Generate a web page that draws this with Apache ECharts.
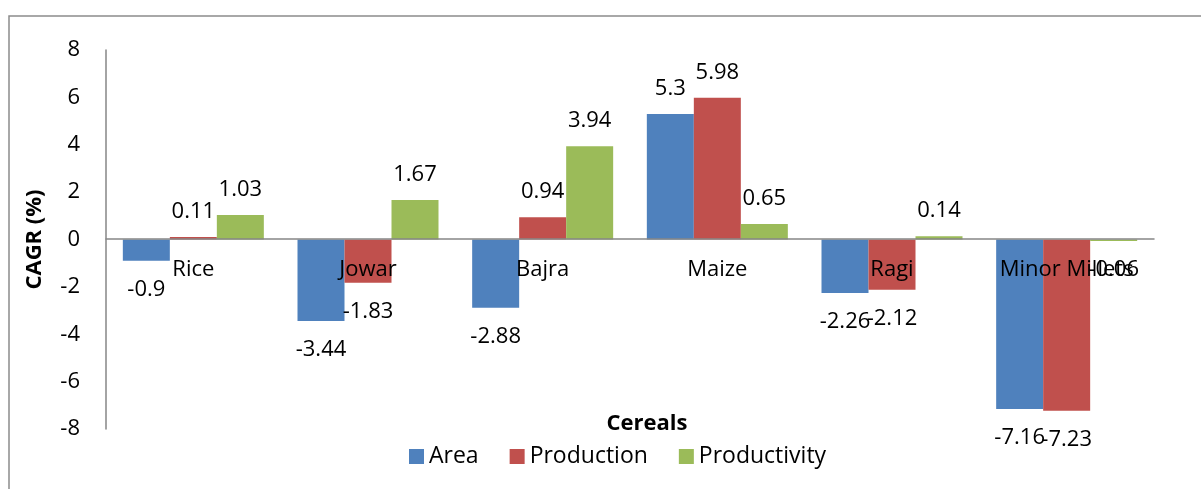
<!DOCTYPE html>
<html>
<head>
<meta charset="utf-8">
<script src="https://cdn.jsdelivr.net/npm/echarts@6/dist/echarts.min.js"></script>
<style>
  html, body { margin: 0; padding: 0; background: #fff; }
  #chart { width: 1201px; height: 489px; }
</style>
</head>
<body>
<div id="chart"></div>
<script>
const categories = ['Rice', 'Jowar', 'Bajra', 'Maize', 'Ragi', 'Minor Millets']
const area = [-0.9, -3.44, -2.88, 5.3, -2.26, -7.16]
const production = [0.11, -1.83, 0.94, 5.98, -2.12, -7.23]
const productivity = [1.03, 1.67, 3.94, 0.65, 0.14, -0.06]
const yTicks = [-8, -6, -4, -2, 0, 2, 4, 6, 8]

const FONT = 'Open Sans'
const FS = 22

// label above for positive bars, below for negative ones
function toData (values) {
  return values.map(v => ({
    value: v,
    label: { position: v < 0 ? 'bottom' : 'top', distance: v < 0 ? 18 : 14 }
  }))
}

function makeSeries (name, values, color) {
  return {
    name: name,
    type: 'bar',
    barWidth: 47,
    barGap: '0%',
    itemStyle: { color: color },
    label: {
      show: true,
      color: '#000',
      fontFamily: FONT,
      fontSize: FS,
      lineHeight: 22
    },
    data: toData(values)
  }
}

let myChart = echarts.init(document.getElementById('chart'))
myChart.setOption({
  animation: false,
  textStyle: { fontFamily: FONT },
  grid: { left: 106, right: 47, top: 50, bottom: 60, containLabel: false },
  legend: {
    bottom: 16,
    left: 404,
    itemWidth: 15,
    itemHeight: 15,
    itemGap: 31,
    icon: 'rect',
    textStyle: { color: '#000', fontSize: 23, fontFamily: FONT },
    data: ['Area', 'Production', 'Productivity']
  },
  xAxis: {
    type: 'category',
    data: categories,
    // axis sits on the zero line, labels just under it, drawn over the bars
    offset: -190,
    z: 10,
    axisLine: { onZero: false, lineStyle: { color: '#868686', width: 1.5 } },
    axisTick: { show: false },
    axisLabel: { color: '#000', fontSize: FS, margin: 20, fontFamily: FONT, interval: 0 }
  },
  yAxis: {
    type: 'value',
    min: yTicks[0],
    max: yTicks[yTicks.length - 1],
    interval: 2,
    name: 'CAGR (%)',
    nameLocation: 'middle',
    nameGap: 60,
    nameTextStyle: { color: '#000', fontSize: FS, fontWeight: 'bold', fontFamily: FONT },
    axisLine: { show: true, lineStyle: { color: '#868686', width: 1.5 } },
    axisTick: { show: false },
    splitLine: { show: false },
    axisLabel: { color: '#000', fontSize: FS, margin: 26, fontFamily: FONT }
  },
  graphic: [
    {
      type: 'rect',
      shape: { x: 9, y: 16, width: 1400, height: 700 },
      style: { fill: 'none', stroke: '#8c8c8c', lineWidth: 1.5 },
      silent: true
    },
    {
      type: 'text',
      x: 647,
      y: 424,
      style: {
        text: 'Cereals',
        fill: '#000',
        font: 'bold 22px "Open Sans"',
        textAlign: 'center',
        textVerticalAlign: 'middle'
      }
    }
  ],
  series: [
    makeSeries('Area', area, '#4F81BD'),
    makeSeries('Production', production, '#C0504D'),
    makeSeries('Productivity', productivity, '#9BBB59')
  ]
})
</script>
</body>
</html>
